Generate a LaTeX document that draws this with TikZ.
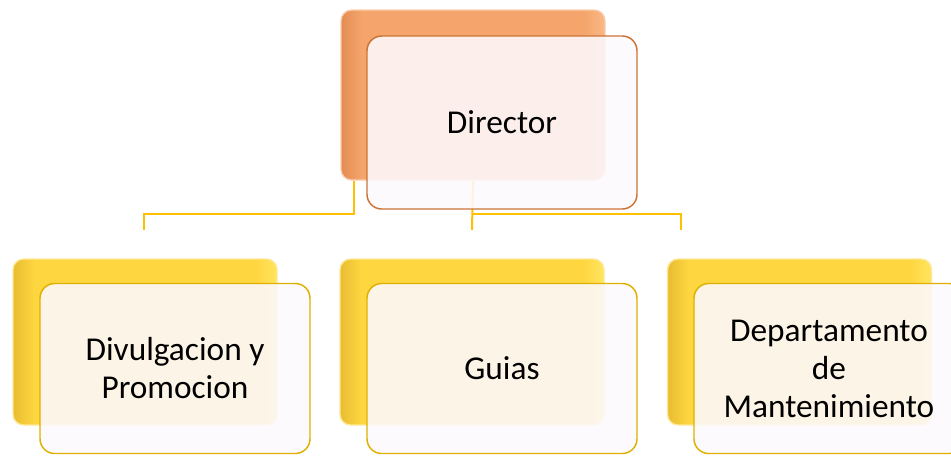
\documentclass[tikz,border=0pt]{standalone}
\usepackage{fontspec}
\setmainfont{Carlito}
\definecolor{ordark}{HTML}{E38D55}
\definecolor{ormid}{HTML}{F5A56B}
\definecolor{orlight}{HTML}{F9B987}
\definecolor{orline}{HTML}{CB7436}
\definecolor{yedark}{HTML}{E9BC32}
\definecolor{yemid}{HTML}{FED640}
\definecolor{yelight}{HTML}{FFE560}
\definecolor{yeline}{HTML}{E0B000}
\definecolor{conn}{HTML}{FFC000}
\definecolor{frontfill}{HTML}{FCF9FD}
\pgfdeclarehorizontalshading{orshade}{100bp}{color(0bp)=(ordark); color(25bp)=(ordark); color(29bp)=(ormid); color(71bp)=(ormid); color(75bp)=(orlight); color(100bp)=(orlight)}
\pgfdeclarehorizontalshading{yeshade}{100bp}{color(0bp)=(yedark); color(25bp)=(yedark); color(29bp)=(yemid); color(71bp)=(yemid); color(75bp)=(yelight); color(100bp)=(yelight)}
\begin{document}
\begin{tikzpicture}[x=0.75pt,y=-0.75pt,
  backbox/.style={rounded corners=8pt, inner sep=0pt, minimum width=198pt, line width=1pt},
  orback/.style={backbox, minimum height=127.5pt, shading=orshade, draw=ormid!55},
  yeback/.style={backbox, minimum height=124.5pt, shading=yeshade, draw=yemid!55},
  frontbox/.style={rounded corners=11pt, inner sep=0pt, minimum width=202.5pt, fill=frontfill, fill opacity=0.88, text opacity=1, line width=1.1pt, align=center, font=\fontsize{25}{28.5}\selectfont, text=black},
  orfront/.style={frontbox, minimum height=129.75pt, draw=orline},
  yefront/.style={frontbox, minimum height=127.5pt, draw=yeline},
  connector/.style={draw=conn, line width=1.5pt}
]
\useasboundingbox (0,0) rectangle (951,455);
\clip (0,0) rectangle (951,455);
% back boxes
\node[orback] (tb) at (473,95) {};
\node[yeback] (lb) at (145,342) {};
\node[yeback] (mb) at (472,342) {};
\node[yeback] (rb) at (799.5,342) {};
% connectors
\coordinate (c1) at ([xshift=10.5pt]tb.south west);
\coordinate (e1) at (144,230);
\coordinate (e2) at (472,230);
\coordinate (e3) at (681,230);
\draw[connector] (c1) |- (144,214) -- (e1);
\draw[connector] (tb.south) -- (e2);
\draw[connector] (472,214) -| (e3);
% front boxes
\node[orfront] (tf) at (502,122.5) {Director};
\node[yefront] (lf) at (175,368.5) {Divulgacion y\\Promocion};
\node[yefront] (mf) at (502,368.5) {Guias};
\node[yefront] (rf) at (829,368.5) {Departamento\\de\\Mantenimiento};
\end{tikzpicture}
\end{document}
